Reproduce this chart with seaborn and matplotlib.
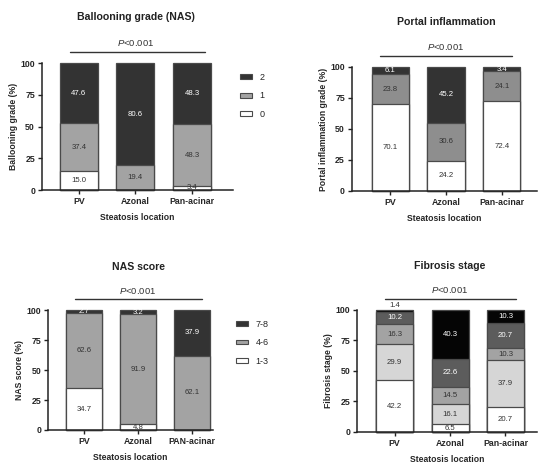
import matplotlib
matplotlib.use("Agg")
import matplotlib.pyplot as plt
import seaborn as sns
import numpy as np
from matplotlib.patches import Patch

sns.set_theme(style="ticks")
plt.rcParams['font.family'] = ['Liberation Sans', 'DejaVu Sans']
plt.rcParams['mathtext.fontset'] = 'custom'
plt.rcParams['mathtext.rm'] = 'Liberation Sans'
plt.rcParams['mathtext.it'] = 'Liberation Sans:italic'

# --- DATA ---
LOCATIONS = ["PV", "Azonal", "Pan-acinar"]
LOCATIONS_NAS = ["PV", "Azonal", "PAN-acinar"]

BALLOON_LABELS = ["0", "1", "2"]
BALLOON_0 = [15.0, 0.0, 3.4]
BALLOON_1 = [37.4, 19.4, 48.3]
BALLOON_2 = [47.6, 80.6, 48.3]

PORTAL_LABELS = ["0", "1", "2"]
PORTAL_0 = [70.1, 24.2, 72.4]
PORTAL_1 = [23.8, 30.6, 24.1]
PORTAL_2 = [6.1, 45.2, 3.4]

NAS_LABELS = ["1-3", "4-6", "7-8"]
NAS_13 = [34.7, 4.8, 0.0]
NAS_46 = [62.6, 91.9, 62.1]
NAS_78 = [2.7, 3.2, 37.9]

FIB_LABELS = ["F0", "F1", "F2", "F3", "F4"]
FIB_0 = [42.2, 6.5, 20.7]
FIB_1 = [29.9, 16.1, 37.9]
FIB_2 = [16.3, 14.5, 10.3]
FIB_3 = [10.2, 22.6, 20.7]
FIB_4 = [1.4, 40.3, 10.3]

EDGE = "#4a4a4a"
DARK_TXT = "#333333"


def draw_panel(ax, cats, layers, colors, txt_colors, title, ylabel, xlim,
               line_x, legend_labels=None, legend_anchor=None):
    cum = np.cumsum(np.array(layers), axis=0)
    # draw tallest cumulative first, lower layers on top
    for i in range(len(layers) - 1, -1, -1):
        sns.barplot(x=cats, y=cum[i], color=colors[i], saturation=1,
                    edgecolor=EDGE, linewidth=0.9, width=0.67, ax=ax)
    for p in ax.patches:
        p.set_clip_on(False)

    for i, vals in enumerate(layers):
        for j, v in enumerate(vals):
            if v == 0:
                continue
            y = cum[i][j] - v / 2
            c = txt_colors[i]
            if v < 2:
                y = 103.5
                c = DARK_TXT
            ax.text(j, y, f"{v:.1f}", ha="center", va="center",
                    fontsize=5.6, color=c)

    ax.set_ylim(0, 100)
    ax.set_xlim(*xlim)
    ax.set_yticks([0, 25, 50, 75, 100])
    ax.set_ylabel(ylabel, fontsize=6.2, fontweight="bold", labelpad=2)
    ax.set_xlabel("Steatosis location", fontsize=6.2, fontweight="bold",
                  labelpad=5)
    ax.tick_params(axis="both", labelsize=6.3, width=1, length=3, pad=2,
                   color="#222222")
    for lab in ax.get_xticklabels() + ax.get_yticklabels():
        lab.set_fontweight("bold")
    sns.despine(ax=ax)
    for s in ["left", "bottom"]:
        ax.spines[s].set_linewidth(1.1)
        ax.spines[s].set_color("#222222")

    # significance bar + title above the axes
    ax.plot(line_x, [109, 109], color="#333333", lw=1, clip_on=False)
    ax.text(1, 116, r"$P$<0.001", ha="center", va="center", fontsize=6.8,
            color="#333333")
    ax.text(1, 136, title, ha="center", va="center", fontsize=7.6,
            fontweight="bold", color="#222222")

    if legend_labels is not None:
        handles = [Patch(facecolor=colors[i], edgecolor=EDGE, linewidth=0.8)
                   for i in range(len(legend_labels))][::-1]
        ax.legend(handles, legend_labels[::-1], loc="upper left",
                  bbox_to_anchor=legend_anchor, frameon=False, fontsize=6.5,
                  handlelength=1.3, handleheight=0.45, labelspacing=1.05,
                  handletextpad=0.8, borderaxespad=0)


fig = plt.figure(figsize=(5.38, 4.63), dpi=100)
ax1 = fig.add_axes([0.078, 0.5896, 0.355, 0.2743])
ax2 = fig.add_axes([0.654, 0.5875, 0.344, 0.268])
ax3 = fig.add_axes([0.0892, 0.0713, 0.3067, 0.259])
ax4 = fig.add_axes([0.6636, 0.067, 0.3346, 0.2635])

three_cols = ["white", "#a3a3a3", "#333333"]
three_txt = [DARK_TXT, DARK_TXT, "white"]

draw_panel(ax1, LOCATIONS, [BALLOON_0, BALLOON_1, BALLOON_2], three_cols,
           three_txt, "Ballooning grade (NAS)", "Ballooning grade (%)",
           (-0.65, 2.72), [-0.16, 2.23], BALLOON_LABELS, (1.02, 0.95))
draw_panel(ax2, LOCATIONS, [PORTAL_0, PORTAL_1, PORTAL_2],
           ["white", "#8e8e8e", "#333333"], three_txt,
           "Portal inflammation", "Portal inflammation grade (%)",
           (-0.69, 2.63), [-0.19, 2.18])
draw_panel(ax3, LOCATIONS_NAS, [NAS_13, NAS_46, NAS_78], three_cols,
           three_txt, "NAS score", "NAS score (%)",
           (-0.67, 2.39), [-0.17, 2.19], NAS_LABELS, (1.12, 0.95))
draw_panel(ax4, LOCATIONS, [FIB_0, FIB_1, FIB_2, FIB_3, FIB_4],
           ["white", "#d6d6d6", "#a3a3a3", "#5c5c5c", "#050505"],
           [DARK_TXT, DARK_TXT, DARK_TXT, "white", "white"],
           "Fibrosis stage", "Fibrosis stage (%)",
           (-0.68, 2.57), [-0.17, 2.19])

fig.savefig("out.png", dpi=100, facecolor="white")
